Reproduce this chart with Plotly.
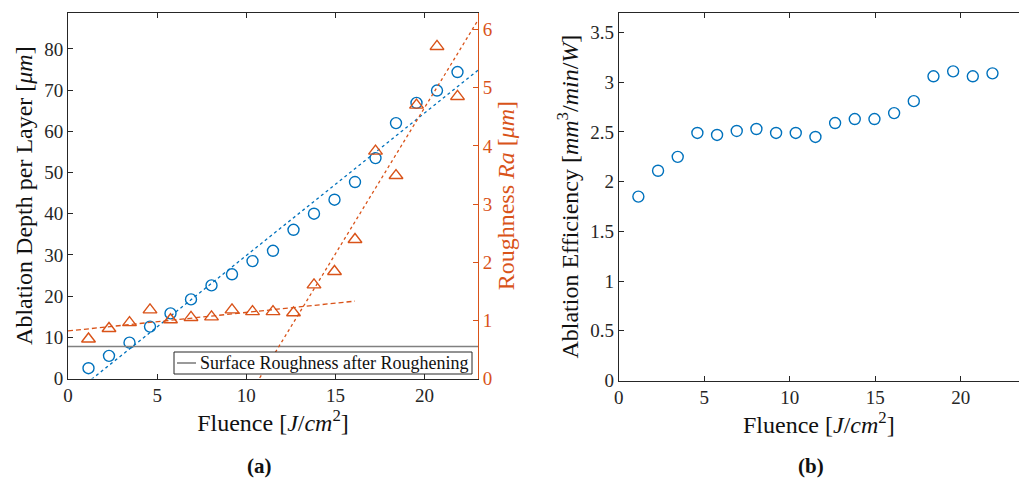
import numpy as np
import plotly.graph_objects as go

# Fluence steps shared by both panels [J/cm^2]
fluence = [1.15, 2.30, 3.45, 4.60, 5.75, 6.90, 8.05, 9.20, 10.35, 11.50,
           12.65, 13.80, 14.95, 16.10, 17.25, 18.40, 19.55, 20.70, 21.85]

# (a) ablation depth per layer [um] and roughness Ra [um]
depth = [2.5, 5.5, 8.7, 12.6, 15.8, 19.2, 22.6, 25.3, 28.5, 31.0,
         36.1, 40.0, 43.4, 47.7, 53.5, 62.0, 66.9, 69.9, 74.4]
roughness = [0.68, 0.86, 0.96, 1.18, 1.01, 1.05, 1.06, 1.18, 1.15, 1.15,
             1.13, 1.61, 1.84, 2.39, 3.91, 3.49, 4.70, 5.71, 4.85]
ra_after_roughening = 0.55

# (b) ablation efficiency [mm^3/min/W]
efficiency = [1.85, 2.11, 2.25, 2.49, 2.47, 2.51, 2.53, 2.49, 2.49, 2.45,
              2.59, 2.63, 2.63, 2.69, 2.81, 3.06, 3.11, 3.06, 3.09]

BLUE = "#0072BD"
ORANGE = "#D95319"
AXIS = "#262626"
GREY = "#808080"
FONT = "Liberation Serif"

f = np.array(fluence)
d = np.array(depth)
r = np.array(roughness)

# Linear trends: depth over all points, roughness split into a low- and high-fluence regime
depth_fit = np.polyfit(f, d, 1)
low_fit = np.polyfit(f[:11], r[:11], 1)
high_fit = np.polyfit(f[11:], r[11:], 1)

x_depth = np.array([0.0, 23.0])
x_low = np.array([0.0, 16.1])
x_high = np.array([9.0, 23.0])

fig = go.Figure()

fig.add_trace(go.Scatter(
    x=x_depth, y=np.polyval(depth_fit, x_depth), mode="lines",
    line=dict(color=BLUE, width=1.3, dash="3px,3px"),
    xaxis="x", yaxis="y", showlegend=False, hoverinfo="skip"))
fig.add_trace(go.Scatter(
    x=fluence, y=depth, mode="markers",
    marker=dict(symbol="circle-open", size=11, color=BLUE, line=dict(width=1.4)),
    xaxis="x", yaxis="y", showlegend=False))

fig.add_trace(go.Scatter(
    x=[0, 23], y=[ra_after_roughening] * 2, mode="lines",
    line=dict(color=GREY, width=1.6),
    name="Surface Roughness after Roughening",
    xaxis="x", yaxis="y2", showlegend=False))
fig.add_trace(go.Scatter(
    x=x_low, y=np.polyval(low_fit, x_low), mode="lines",
    line=dict(color=ORANGE, width=1.3, dash="5px,3px"),
    xaxis="x", yaxis="y2", showlegend=False, hoverinfo="skip"))
fig.add_trace(go.Scatter(
    x=x_high, y=np.polyval(high_fit, x_high), mode="lines",
    line=dict(color=ORANGE, width=1.3, dash="3px,3px"),
    xaxis="x", yaxis="y2", showlegend=False, hoverinfo="skip"))
fig.add_trace(go.Scatter(
    x=fluence, y=roughness, mode="markers",
    marker=dict(symbol="triangle-up-open", size=12, color=ORANGE, line=dict(width=1.4)),
    xaxis="x", yaxis="y2", showlegend=False))

fig.add_trace(go.Scatter(
    x=fluence, y=efficiency, mode="markers",
    marker=dict(symbol="circle-open", size=11, color=BLUE, line=dict(width=1.4)),
    xaxis="x2", yaxis="y3", showlegend=False))

W, H = 1019, 482


def px_x(p):
    return p / W


def px_y(p):
    return 1 - p / H


tick_font = dict(family=FONT, size=19, color=AXIS)
title_font = dict(family=FONT, size=24, color="#111111")
common = dict(showgrid=False, zeroline=False, showline=True, linecolor=AXIS,
              linewidth=1, ticks="inside", ticklen=5, tickcolor=AXIS,
              tickfont=tick_font, automargin=False)

fluence_title = "Fluence [<i>J</i>/<i>cm</i><sup>2</sup>]"

# Boxed key for the reference roughness line
key_left, key_right, key_top, key_bottom = 174, 472, 352, 374
key_mid = (key_top + key_bottom) / 2
shapes = [
    dict(type="rect", xref="paper", yref="paper",
         x0=px_x(key_left), x1=px_x(key_right), y0=px_y(key_bottom), y1=px_y(key_top),
         line=dict(color=AXIS, width=1), fillcolor="white", layer="above"),
    dict(type="line", xref="paper", yref="paper",
         x0=px_x(key_left + 3), x1=px_x(key_left + 22), y0=px_y(key_mid), y1=px_y(key_mid),
         line=dict(color=GREY, width=1.6), layer="above"),
]

fig.update_layout(
    width=W, height=H,
    margin=dict(l=0, r=0, t=0, b=0, autoexpand=False),
    paper_bgcolor="white", plot_bgcolor="white",
    font=dict(family=FONT, color=AXIS),
    showlegend=False,
    xaxis=dict(domain=[px_x(68), px_x(478)], range=[0, 23], anchor="y",
               tickvals=[0, 5, 10, 15, 20], mirror="ticks",
               title=dict(text=fluence_title, font=title_font, standoff=2),
               **common),
    yaxis=dict(domain=[px_y(378.5), px_y(12.7)], range=[0, 88.8], anchor="x",
               tickvals=list(range(0, 81, 10)),
               title=dict(text="Ablation Depth per Layer [<i>μm</i>]", font=title_font, standoff=4),
               **common),
    yaxis2=dict(overlaying="y", side="right", anchor="x", range=[0, 6.29],
                tickvals=list(range(0, 7)), automargin=False,
                showgrid=False, zeroline=False, showline=True, linecolor=ORANGE,
                linewidth=1, ticks="inside", ticklen=5, tickcolor=ORANGE,
                tickfont=dict(family=FONT, size=19, color=ORANGE),
                title=dict(text="Roughness <i>Ra</i> [<i>μm</i>]",
                           font=dict(family=FONT, size=24, color=ORANGE), standoff=4)),
    xaxis2=dict(domain=[px_x(618.7), 1.0], range=[0, 23.4], anchor="y3",
                tickvals=[0, 5, 10, 15, 20], mirror="ticks",
                title=dict(text=fluence_title, font=title_font, standoff=2),
                **common),
    yaxis3=dict(domain=[px_y(380.5), px_y(12.7)], range=[0, 3.7], anchor="x2",
                tickvals=[0, 0.5, 1, 1.5, 2, 2.5, 3, 3.5],
                title=dict(text="Ablation Efficiency [<i>mm</i><sup>3</sup>/<i>min</i>/<i>W</i>]",
                           font=title_font, standoff=4),
                **common),
    shapes=shapes,
    annotations=[
        dict(text="Surface Roughness after Roughening", x=px_x(key_left + 24), y=px_y(key_mid),
             xref="paper", yref="paper", xanchor="left", yanchor="middle", showarrow=False,
             font=dict(family=FONT, size=18, color="#111111")),
        dict(text="<b>(a)</b>", x=px_x(259), y=px_y(466), xref="paper", yref="paper",
             xanchor="center", yanchor="middle",
             showarrow=False, font=dict(family=FONT, size=21, color="#111111")),
        dict(text="<b>(b)</b>", x=px_x(811), y=px_y(466), xref="paper", yref="paper",
             xanchor="center", yanchor="middle",
             showarrow=False, font=dict(family=FONT, size=21, color="#111111")),
    ],
)

fig.write_html("out.html")
